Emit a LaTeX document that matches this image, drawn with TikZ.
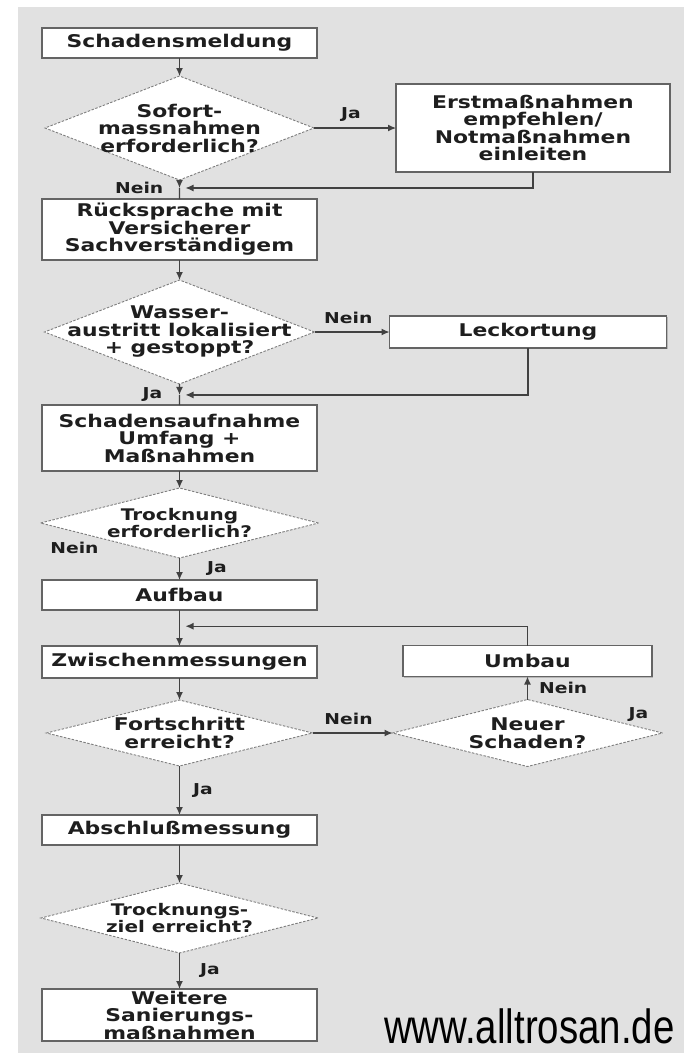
\documentclass[tikz,border=0pt]{standalone}
\usepackage{fontspec}
\newfontfamily\chartfont[FakeStretch=1.25]{DejaVu Sans}
\newfontfamily\webfont[FakeStretch=0.8]{Liberation Sans}
\usepackage{tikz}
\usetikzlibrary{positioning,shapes.geometric,shadows,calc,arrows.meta}
\definecolor{bggray}{RGB}{225,225,225}
\definecolor{framegray}{RGB}{100,100,100}
\definecolor{dashgray}{RGB}{125,125,125}
\definecolor{linegray}{RGB}{65,65,65}
\definecolor{inkgray}{RGB}{30,30,30}
\tikzset{
  basic/.style    = {draw=framegray, line width=1.4pt, fill=white, rectangle,
                     text=inkgray, align=center, inner ysep=1pt, outer sep=0pt,
                     font=\chartfont\bfseries\fontsize{17.5}{17.5}\selectfont,
                     drop shadow={shadow xshift=1pt, shadow yshift=-1pt,
                     fill=gray!70, opacity=.7}},
  stepbox/.style  = {basic, minimum width=275pt, minimum height=30pt},
  sidebox/.style  = {basic, minimum height=31pt},
  decide/.style   = {diamond, draw=dashgray, line width=.9pt,
                     dash pattern=on 2.5pt off 1.5pt, fill=white, text=inkgray,
                     align=center, inner xsep=-60pt, inner ysep=-30pt, outer sep=0pt,
                     font=\chartfont\bfseries\fontsize{17.5}{17.5}\selectfont},
  lowdecide/.style = {decide, font=\chartfont\bfseries\fontsize{16}{14.5}\selectfont},
  lbl/.style      = {text=inkgray, inner sep=0pt,
                     font=\chartfont\bfseries\fontsize{15}{15}\selectfont},
  flow/.style     = {draw=linegray, line width=1.2pt}
}
\begin{document}
\begin{tikzpicture}[x=1pt, y=1pt, >={Latex[length=8pt,width=7pt]}]
  % page and grey sheet
  \fill[white] (0,0) rectangle (684,-1061);
  \fill[bggray] (18,-7) rectangle (684,-1053);
  \useasboundingbox (0,0) rectangle (684,-1061);
  % main column, top to bottom
  \node[stepbox] (b1) at (179.5,-43) {Schadensmeldung};
  \node[decide, below=18pt of b1, minimum width=269pt, minimum height=104pt] (q1)
    {Sofort-\\massnahmen\\erforderlich?};
  \node[stepbox, below=19pt of q1, minimum height=61pt] (b2)
    {Rücksprache mit\\Versicherer\\Sachverständigem};
  \node[decide, below=20pt of b2, minimum width=270pt, minimum height=104pt] (q2)
    {Wasser-\\austritt lokalisiert\\+ gestoppt?};
  \node[stepbox, below=21pt of q2, minimum height=66pt] (b3)
    {Schadensaufnahme\\Umfang +\\Maßnahmen};
  \node[lowdecide, below=17pt of b3, minimum width=278pt, minimum height=70pt] (q3)
    {Trocknung\\erforderlich?};
  \node[stepbox, below=22pt of q3] (b4) {Aufbau};
  \node[stepbox, below=36pt of b4, minimum height=32pt] (b5) {Zwischenmessungen};
  \node[decide, below=22pt of b5, minimum width=266pt, minimum height=66pt] (q4)
    {Fortschritt\\erreicht?};
  \node[stepbox, below=49pt of q4] (b6) {Abschlußmessung};
  \node[lowdecide, below=38pt of b6, minimum width=277pt, minimum height=70pt] (q6)
    {Trocknungs-\\ziel erreicht?};
  \node[stepbox, below=36pt of q6, minimum height=52pt] (b7)
    {Weitere\\Sanierungs-\\maßnahmen};
  % side branches
  \node[sidebox, right=82pt of q1, minimum width=274pt, minimum height=88pt] (r1)
    {Erstmaßnahmen\\empfehlen/\\Notmaßnahmen\\einleiten};
  \node[sidebox, right=75pt of q2, minimum width=277pt, minimum height=32pt] (r2)
    {Leckortung};
  \node[decide, right=80pt of q4, minimum width=270pt, minimum height=67pt] (q5)
    {Neuer\\Schaden?};
  \node[sidebox, above=23pt of q5, minimum width=249pt] (r3) {Umbau};
  \node[anchor=base west, inner sep=0pt, text=black,
        font=\webfont\fontsize{48}{48}\selectfont] (web) at (384,-1043)
    {www.alltrosan.de};
  % where the side branches join the main column
  \coordinate (j1) at ($(q1.south)!.42!(b2.north)$);
  \coordinate (j2) at ($(q2.south)!.52!(b3.north)$);
  \coordinate (j3) at ($(b4.south)!.45!(b5.north)$);
  % straight arrows down the main column
  \foreach \a/\b in {b1/q1,b2/q2,b3/q3,b4/b5,b5/q4,b6/q6}
    \draw[flow,->] (\a) -- (\b);
  \draw[flow,->] (q1) -- (j1);
  \draw[flow] (j1) -- (b2);
  \draw[flow,->] (q2) -- (j2);
  \draw[flow] (j2) -- (b3);
  \draw[flow,->] (q1) -- node[lbl, above=6pt, pos=.45] (l1) {Ja} (r1);
  \draw[flow,->] (r1.south) |- ([xshift=6pt]j1);
  \node[lbl, left=16pt of j1] (l2) {Nein};
  \draw[flow,->] (q2) -- node[lbl, above=8pt, pos=.45] (l3) {Nein} (r2);
  \draw[flow,->] (r2.south) |- ([xshift=6pt]j2);
  \node[lbl, left=17pt of j2] (l4) {Ja};
  \node[lbl] (l5) at ([shift={(34,-25)}]q3.west) {Nein};
  \draw[flow,->] (q3) -- node[lbl, right=27pt] (l6) {Ja} (b4);
  \draw[flow,->] (q4) -- node[lbl, above=8pt, pos=.45] (l7) {Nein} (q5);
  \draw[flow,->] (q5) -- node[lbl, right=11pt] (l8) {Nein} (r3);
  \node[lbl] (l9) at ([shift={(-24,18)}]q5.east) {Ja};
  \draw[flow,->] (r3.north) |- ([xshift=6pt]j3);
  \draw[flow,->] (q4) -- node[lbl, right=13pt] (l10) {Ja} (b6);
  \draw[flow,->] (q6) -- node[lbl, right=20pt] (l11) {Ja} (b7);
\end{tikzpicture}
\end{document}
